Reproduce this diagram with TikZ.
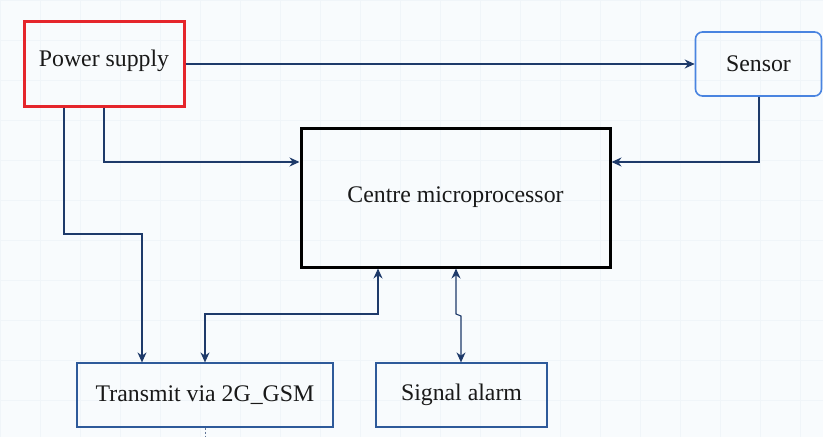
\documentclass[tikz,border=0pt]{standalone}
\usepackage{fontspec}
\setmainfont{Liberation Serif}
\usetikzlibrary{arrows.meta}
\definecolor{bgc}{HTML}{F8FBFD}
\definecolor{gridc}{HTML}{F0F5F9}
\definecolor{linec}{HTML}{1E3A6A}
\definecolor{psred}{HTML}{E5252B}
\definecolor{sensb}{HTML}{4A84E0}
\definecolor{boxb}{HTML}{2E5A9A}
\tikzset{
  blk/.style={rectangle, draw, inner sep=0pt, font=\fontsize{23.8}{28}\selectfont, text=black!90},
  conn/.style={draw=linec, line width=1.1pt, -{Stealth[length=10pt,width=9pt]}},
  bconn/.style={draw=linec, line width=1.1pt, {Stealth[length=10pt,width=9pt]}-{Stealth[length=10pt,width=9pt]}},
}
\begin{document}
\begin{tikzpicture}[x=1pt,y=-1pt]
\fill[bgc] (0,0) rectangle (823,437);
\useasboundingbox (0,0) rectangle (823,437);
\draw[gridc, line width=0.5pt] (0,0) grid[step=40pt] (823,437);
\node[blk, draw=psred, line width=3pt, minimum width=160pt, minimum height=85pt, text height=17pt, text depth=12pt] (ps) at (104,63.5) {Power supply};
\node[blk, draw=sensb, line width=1.6pt, rounded corners=7pt, minimum width=126pt, minimum height=64pt] (sens) at (758.5,64) {Sensor};
\node[blk, draw=black, line width=3pt, minimum width=309pt, minimum height=139pt] (cm) at (455.5,197.5) {Centre microprocessor};
\node[blk, draw=boxb, line width=1.2pt, minimum width=256pt, minimum height=64pt] (tx) at (205,395) {Transmit via 2G\_GSM};
\node[blk, draw=boxb, line width=1.2pt, minimum width=171pt, minimum height=64pt] (sa) at (461.5,395) {Signal alarm};
% connectors
\draw[conn] (ps.east |- 0,64) -- (sens.west |- 0,64);
\draw[conn] (ps.south -| 104,0) |- (cm.west |- 0,162);
\draw[conn] (ps.south -| 64,0) |- (142,234) -- (tx.north -| 142,0);
\draw[conn] (sens.south -| 759,0) |- (cm.east |- 0,162);
\draw[bconn] (cm.south -| 378,0) |- (205,314) -- (tx.north -| 205,0);
\draw[bconn] (cm.south -| 456,0) -- (456,314) -- (461,316) -- (sa.north -| 461,0);
\draw[linec!70, line width=0.8pt, dash pattern=on 2pt off 2pt] (tx.south -| 205,0) -- (205,437);
\end{tikzpicture}
\end{document}
